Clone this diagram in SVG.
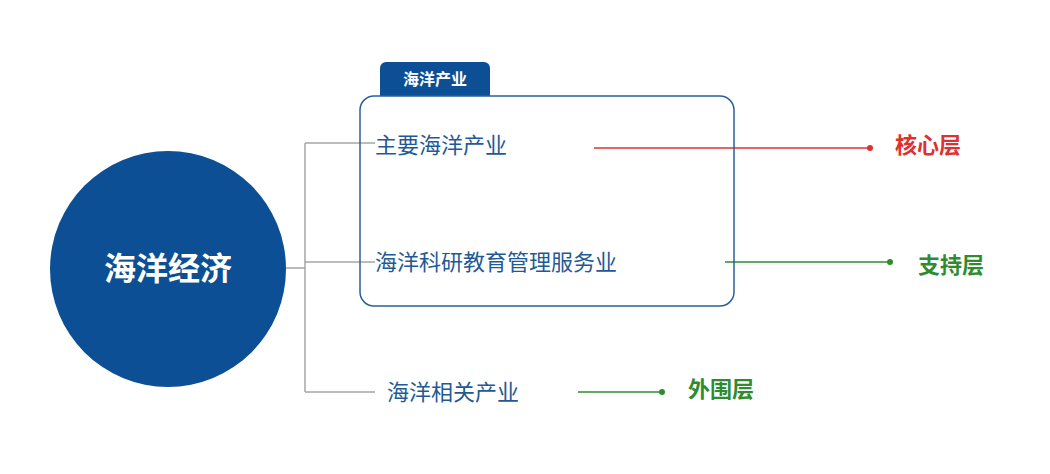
<svg xmlns="http://www.w3.org/2000/svg" width="1050" height="474" viewBox="0 0 1050 474">
<style>
.t{font-family:"Noto Sans CJK SC",sans-serif;font-size:22px;fill:#1f5a96}
.g{stroke:#a6a6a6;stroke-width:1.5;fill:none}
.lab{font-family:"Noto Sans CJK SC",sans-serif;font-size:22px;font-weight:bold}
</style>
<rect width="1050" height="474" fill="#fff"/>
<g id="connectors">
<path class="g" d="M286 268H305M305 143V392M305 143H375M305 262H375M305 392H375"/>
<path d="M594 148H870" stroke="#e03030" stroke-width="1.5"/><circle cx="870" cy="148" r="3" fill="#e03030"/>
<path d="M725 262H890" stroke="#2e8b2e" stroke-width="1.5"/><circle cx="890" cy="262" r="3" fill="#2e8b2e"/>
<path d="M578 392H662" stroke="#2e8b2e" stroke-width="1.5"/><circle cx="662" cy="392" r="3" fill="#2e8b2e"/>
</g>
<g id="core"><circle cx="168" cy="269" r="118" fill="#0d4f94"/>
<text x="168" y="280" text-anchor="middle" font-family="Noto Sans CJK SC,sans-serif" font-size="32" font-weight="bold" fill="#fff">海洋经济</text></g>
<g id="box"><path d="M380 96V68a6 6 0 0 1 6-6H484a6 6 0 0 1 6 6V96Z" fill="#0d4f94"/>
<text x="435" y="85" text-anchor="middle" font-family="Noto Sans CJK SC,sans-serif" font-size="16" font-weight="bold" fill="#fff">海洋产业</text>
<rect x="360" y="96" width="374" height="210" rx="14" fill="none" stroke="#2d5f9a" stroke-width="1.5"/></g>
<g id="n1"><text class="t" x="375" y="153">主要海洋产业</text></g>
<g id="n2"><text class="t" x="375" y="270">海洋科研教育管理服务业</text></g>
<g id="n3"><text class="t" x="387" y="400">海洋相关产业</text></g>
<g id="l1"><text class="lab" x="895" y="153" fill="#e03030">核心层</text></g>
<g id="l2"><text class="lab" x="918" y="273" fill="#2e8b2e">支持层</text></g>
<g id="l3"><text class="lab" x="688" y="397" fill="#2e8b2e">外围层</text></g>
</svg>
